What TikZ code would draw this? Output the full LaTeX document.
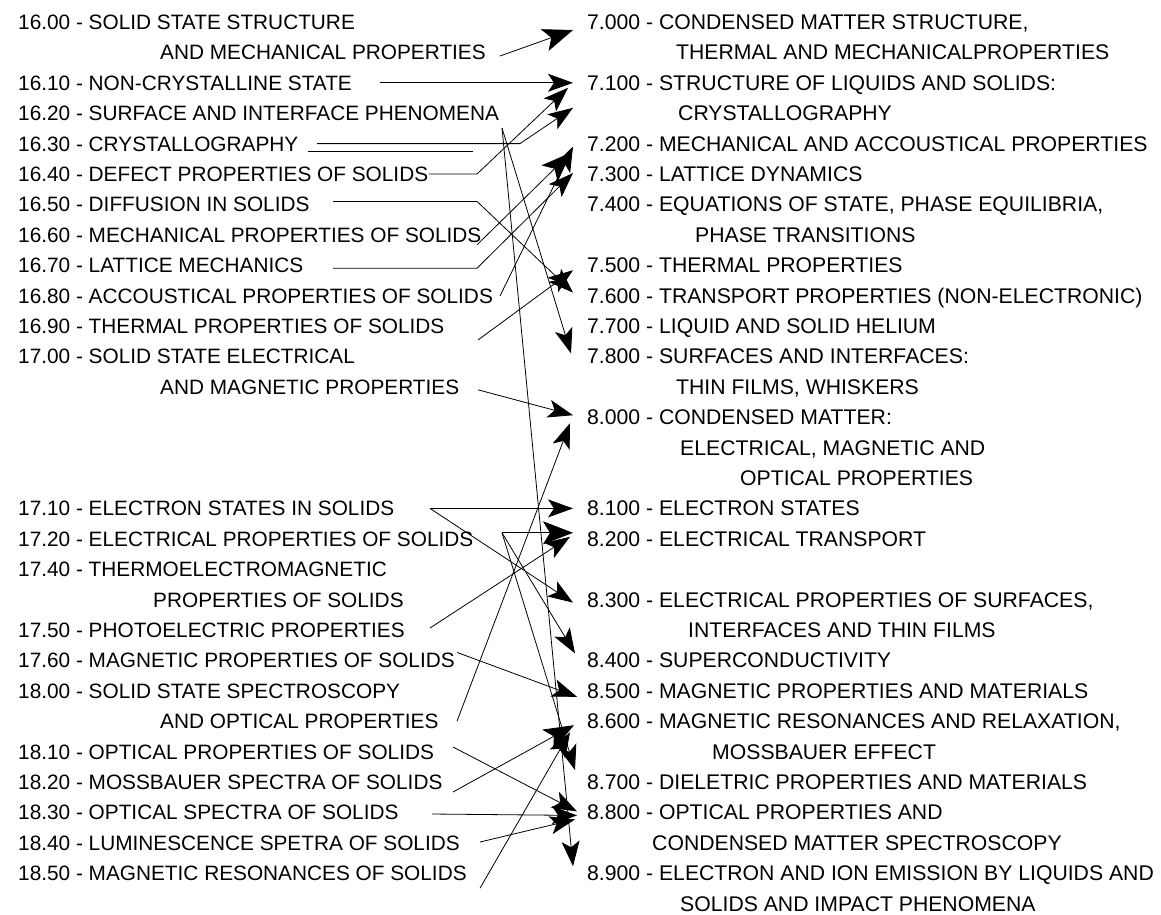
\documentclass[tikz,border=0pt]{standalone}
\usepackage{fontspec}
\setmainfont{Liberation Sans}
\usetikzlibrary{arrows.meta}
\begin{document}
\begin{tikzpicture}[x=1pt,y=-1pt,
  txt/.style={anchor=west,inner sep=0pt,font=\fontsize{20.8}{24}\selectfont,text height=15pt,text depth=0pt},
  rtxt/.style={txt,font=\fontsize{21.2}{24}\selectfont},
  ln/.style={line width=0.8pt,black},
  arr/.style={line width=0.8pt,black,-{Stealth[length=25pt,width=18pt,inset=6pt]}},
  bigarr/.style={line width=0.8pt,black,-{Stealth[length=30pt,width=23pt,inset=7pt]}}]
\fill[white] (0,0) rectangle (1161,914);
\useasboundingbox (0,0) rectangle (1161,914);
% ---------- left column ----------
\node[txt] (l1600)  at (18,22)    {16.00 - SOLID STATE STRUCTURE};
\node[txt] (l1600b) at (160,52.4) {AND MECHANICAL PROPERTIES};
\node[txt] (l1610)  at (18,82.8)  {16.10 - NON-CRYSTALLINE STATE};
\node[txt] (l1620)  at (18,113.2) {16.20 - SURFACE AND INTERFACE PHENOMENA};
\node[txt] (l1630)  at (18,143.6) {16.30 - CRYSTALLOGRAPHY};
\node[txt] (l1640)  at (18,174)   {16.40 - DEFECT PROPERTIES OF SOLIDS};
\node[txt] (l1650)  at (18,204.4) {16.50 - DIFFUSION IN SOLIDS};
\node[txt] (l1660)  at (18,234.8) {16.60 - MECHANICAL PROPERTIES OF SOLIDS};
\node[txt] (l1670)  at (18,265.2) {16.70 - LATTICE MECHANICS};
\node[txt] (l1680)  at (18,295.6) {16.80 - ACCOUSTICAL PROPERTIES OF SOLIDS};
\node[txt] (l1690)  at (18,326)   {16.90 - THERMAL PROPERTIES OF SOLIDS};
\node[txt] (l1700)  at (18,356.4) {17.00 - SOLID STATE ELECTRICAL};
\node[txt] (l1700b) at (160,386.8){AND MAGNETIC PROPERTIES};
\node[txt] (l1710)  at (18,508.4) {17.10 - ELECTRON STATES IN SOLIDS};
\node[txt] (l1720)  at (18,538.8) {17.20 - ELECTRICAL PROPERTIES OF SOLIDS};
\node[txt] (l1740)  at (18,569.2) {17.40 - THERMOELECTROMAGNETIC};
\node[txt] (l1740b) at (153,599.6){PROPERTIES OF SOLIDS};
\node[txt] (l1750)  at (18,630)   {17.50 - PHOTOELECTRIC PROPERTIES};
\node[txt] (l1760)  at (18,660.4) {17.60 - MAGNETIC PROPERTIES OF SOLIDS};
\node[txt] (l1800)  at (18,690.8) {18.00 - SOLID STATE SPECTROSCOPY};
\node[txt] (l1800b) at (160,721.2){AND OPTICAL PROPERTIES};
\node[txt] (l1810)  at (18,751.6) {18.10 - OPTICAL PROPERTIES OF SOLIDS};
\node[txt] (l1820)  at (18,782)   {18.20 - MOSSBAUER SPECTRA OF SOLIDS};
\node[txt] (l1830)  at (18,812.4) {18.30 - OPTICAL SPECTRA OF SOLIDS};
\node[txt] (l1840)  at (18,842.8) {18.40 - LUMINESCENCE SPETRA OF SOLIDS};
\node[txt] (l1850)  at (18,873.2) {18.50 - MAGNETIC RESONANCES OF SOLIDS};
% ---------- right column ----------
\node[rtxt] (r7000)  at (587,22)    {7.000 - CONDENSED MATTER STRUCTURE,};
\node[rtxt] (r7000b) at (676,52.4)  {THERMAL AND MECHANICALPROPERTIES};
\node[rtxt] (r7100)  at (587,82.8)  {7.100 - STRUCTURE OF LIQUIDS AND SOLIDS:};
\node[rtxt] (r7100b) at (678,113.2) {CRYSTALLOGRAPHY};
\node[rtxt] (r7200)  at (587,143.6) {7.200 - MECHANICAL AND ACCOUSTICAL PROPERTIES};
\node[rtxt] (r7300)  at (587,174)   {7.300 - LATTICE DYNAMICS};
\node[rtxt] (r7400)  at (587,204.4) {7.400 - EQUATIONS OF STATE, PHASE EQUILIBRIA,};
\node[rtxt] (r7400b) at (695,234.8) {PHASE TRANSITIONS};
\node[rtxt] (r7500)  at (587,265.2) {7.500 - THERMAL PROPERTIES};
\node[rtxt] (r7600)  at (587,295.6) {7.600 - TRANSPORT PROPERTIES (NON-ELECTRONIC)};
\node[rtxt] (r7700)  at (587,326)   {7.700 - LIQUID AND SOLID HELIUM};
\node[rtxt] (r7800)  at (587,356.4) {7.800 - SURFACES AND INTERFACES:};
\node[rtxt] (r7800b) at (676,386.8) {THIN FILMS, WHISKERS};
\node[rtxt] (r8000)  at (587,417.2) {8.000 - CONDENSED MATTER:};
\node[rtxt] (r8000b) at (680,447.6) {ELECTRICAL, MAGNETIC AND};
\node[rtxt] (r8000c) at (740,478)   {OPTICAL PROPERTIES};
\node[rtxt] (r8100)  at (587,508.4) {8.100 - ELECTRON STATES};
\node[rtxt] (r8200)  at (587,538.8) {8.200 - ELECTRICAL TRANSPORT};
\node[rtxt] (r8300)  at (587,599.6) {8.300 - ELECTRICAL PROPERTIES OF SURFACES,};
\node[rtxt] (r8300b) at (688,630)   {INTERFACES AND THIN FILMS};
\node[rtxt] (r8400)  at (587,660.4) {8.400 - SUPERCONDUCTIVITY};
\node[rtxt] (r8500)  at (587,690.8) {8.500 - MAGNETIC PROPERTIES AND MATERIALS};
\node[rtxt] (r8600)  at (587,721.2) {8.600 - MAGNETIC RESONANCES AND RELAXATION,};
\node[rtxt] (r8600b) at (712,751.6) {MOSSBAUER EFFECT};
\node[rtxt] (r8700)  at (587,782)   {8.700 - DIELETRIC PROPERTIES AND MATERIALS};
\node[rtxt] (r8800)  at (587,812.4) {8.800 - OPTICAL PROPERTIES AND};
\node[rtxt] (r8800b) at (652,842.8) {CONDENSED MATTER SPECTROSCOPY};
\node[rtxt] (r8900)  at (587,873.2) {8.900 - ELECTRON AND ION EMISSION BY LIQUIDS AND};
\node[rtxt] (r8900b) at (680,903.6) {SOLIDS AND IMPACT PHENOMENA};
% ---------- connectors ----------
\draw[bigarr] ([shift={(340,3.6)}]l1600b.west) -- ([shift={(-14,8)}]r7000.west);
\draw[arr] ([shift={(362,0)}]l1610.west) -- ([shift={(-14,0)}]r7100.west);
\draw[arr] ([shift={(484,14.8)}]l1620.west) -- ([shift={(-16,-3)}]r7800.west);
\draw[arr] ([shift={(484,14.8)}]l1620.west) -- ([shift={(-14,-7)}]r8900.west);
\draw[arr] ([shift={(299,0)}]l1630.west) -- ([shift={(502,0)}]l1630.west) -- ([shift={(-14,25)}]r7100.west);
\draw[ln]  ([shift={(290,8)}]l1630.west) -- ([shift={(455,8)}]l1630.west);
\draw[arr] ([shift={(411,0)}]l1640.west) -- ([shift={(459,0)}]l1640.west) -- ([shift={(-19,5)}]r7100.west);
\draw[arr] ([shift={(315,-3)}]l1650.west) -- ([shift={(459,-3)}]l1650.west) -- ([shift={(-14,-3)}]r7600.west);
\draw[bigarr] ([shift={(459,10)}]l1660.west) -- ([shift={(-16,9)}]r7200.west);
\draw[arr] ([shift={(315,3)}]l1670.west) -- ([shift={(459,3)}]l1670.west) -- ([shift={(-14,-1)}]r7300.west);
\draw[arr] ([shift={(482,0.4)}]l1680.west) -- ([shift={(-14,3)}]r7200.west);
\draw[arr] ([shift={(460,14)}]l1690.west) -- ([shift={(-14,5)}]r7500.west);
\draw[arr] ([shift={(318,3)}]l1700b.west) -- ([shift={(-14,-2)}]r8000.west);
\draw[arr] ([shift={(297,0)}]l1800b.west) -- ([shift={(-17,6)}]r8000.west);
\draw[arr] ([shift={(412,0)}]l1710.west) -- ([shift={(-14,0)}]r8100.west);
\draw[arr] ([shift={(412,0)}]l1710.west) -- ([shift={(-14,3)}]r8300.west);
\draw[bigarr] ([shift={(484,-6)}]l1720.west) -- ([shift={(-14,-6)}]r8200.west);
\draw[arr] ([shift={(484,-6)}]l1720.west) -- ([shift={(-12,-7)}]r8400.west);
\draw[arr] ([shift={(484,-6)}]l1720.west) -- ([shift={(-12,-12)}]r8700.west);
\draw[arr] ([shift={(412,-2)}]l1750.west) -- ([shift={(-17,-2)}]r8200.west);
\draw[arr] ([shift={(439,-8)}]l1760.west) -- ([shift={(-10,6)}]r8500.west);
\draw[arr] ([shift={(435,-4.6)}]l1810.west) -- ([shift={(-10,-1)}]r8800.west);
\draw[bigarr] ([shift={(435,10)}]l1820.west) -- ([shift={(-13,4)}]r8600.west);
\draw[arr] ([shift={(414,1.6)}]l1830.west) -- ([shift={(-10,3)}]r8800.west);
\draw[arr] ([shift={(462,-0.8)}]l1840.west) -- ([shift={(-12,7)}]r8800.west);
\draw[arr] ([shift={(462,15)}]l1850.west) -- ([shift={(-17,11)}]r8600.west);
\end{tikzpicture}
\end{document}
